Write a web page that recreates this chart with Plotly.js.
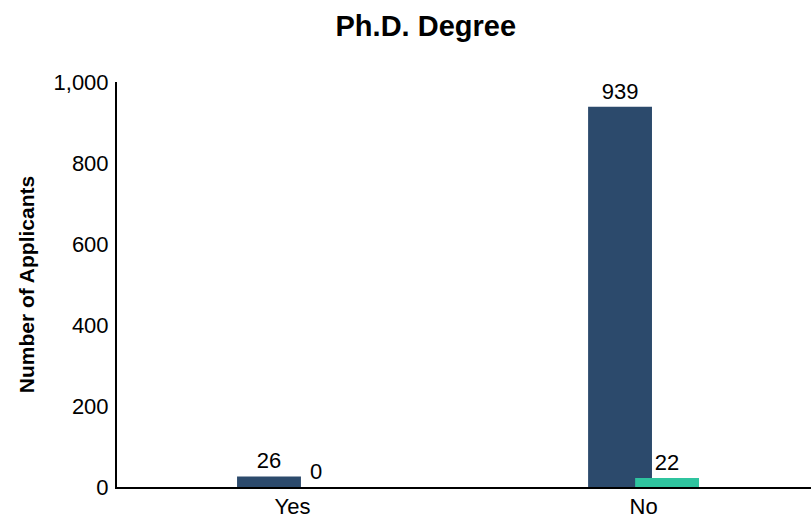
<!DOCTYPE html>
<html>
<head>
<meta charset="utf-8">
<script src="https://cdn.plot.ly/plotly-3.0.1.min.js"></script>
<style>html,body{margin:0;padding:0;background:#fff;}#chart{width:811px;height:518px;}</style>
</head>
<body>
<div id="chart"></div>
<script>
var categories = ["Yes", "No"];
var seriesA = [26, 939];
var seriesB = [0, 22];
var yTickVals = [0, 200, 400, 600, 800, 1000];
var yTickText = ["0", "200", "400", "600", "800", "1,000"];

var FONT = "Arial, 'Liberation Sans', sans-serif";

var traceA = {
  type: "bar",
  x: categories,
  y: seriesA,
  text: seriesA.map(String),
  textposition: "outside",
  cliponaxis: false,
  textfont: {family: FONT, size: 22, color: "#000"},
  marker: {color: "#2c4a6c"},
  width: 0.182,
  offset: -0.158,
  hoverinfo: "x+y",
  showlegend: false
};
var traceB = {
  type: "bar",
  x: categories,
  y: seriesB,
  text: seriesB.map(String),
  textposition: "outside",
  cliponaxis: false,
  textfont: {family: FONT, size: 22, color: "#000"},
  marker: {color: "#2fc49f"},
  width: 0.182,
  offset: -0.024,
  hoverinfo: "x+y",
  showlegend: false
};

var layout = {
  width: 811,
  height: 518,
  margin: {l: 117, r: 0, t: 82, b: 31},
  paper_bgcolor: "#fff",
  plot_bgcolor: "#fff",
  barmode: "overlay",
  font: {family: FONT, size: 22, color: "#000"},
  title: {
    text: "<b>Ph.D. Degree</b>",
    font: {family: FONT, size: 29, color: "#000"},
    x: 0.525, xref: "container", xanchor: "center",
    y: 0.95, yref: "container", yanchor: "middle"
  },
  xaxis: {
    type: "category",
    range: [-0.5, 1.477],
    showline: true, linecolor: "#000", linewidth: 2,
    showgrid: false, zeroline: false, ticks: "",
    ticklabelstandoff: -1,
    tickfont: {family: FONT, size: 22, color: "#000"},
    automargin: false
  },
  yaxis: {
    range: [0, 1000],
    tickvals: yTickVals,
    ticktext: yTickText,
    showline: true, linecolor: "#000", linewidth: 2,
    showgrid: false, zeroline: false, ticks: "",
    ticklabelstandoff: 2,
    tickfont: {family: FONT, size: 22, color: "#000"},
    title: {text: "<b>Number of Applicants</b>", font: {family: FONT, size: 21, color: "#000"}, standoff: 13},
    automargin: false
  }
};

Plotly.newPlot("chart", [traceA, traceB], layout, {displayModeBar: false, staticPlot: true});
</script>
</body>
</html>
